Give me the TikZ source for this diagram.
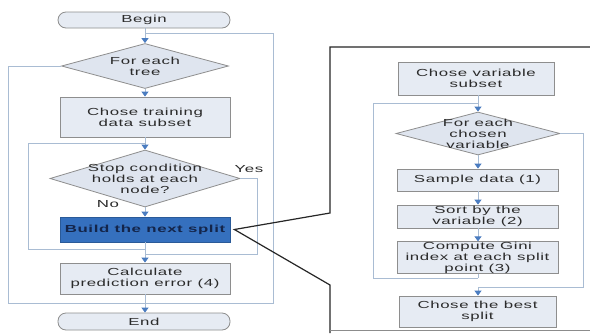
\documentclass[tikz,border=0pt]{standalone}
\usepackage{fontspec}
\setmainfont{Liberation Sans}[FakeStretch=1.65,LetterSpace=6]
\usetikzlibrary{arrows.meta,shapes.geometric}
\definecolor{boxfill}{HTML}{E6EBF3}
\definecolor{diafill}{HTML}{DFE5EF}
\definecolor{boxborder}{HTML}{8E8E8E}
\definecolor{lncol}{HTML}{A9BCD3}
\definecolor{arrcol}{HTML}{4A7CC0}
\definecolor{txt}{HTML}{2B2B2B}
\definecolor{buildfill}{HTML}{3570BE}
\definecolor{buildtxt}{HTML}{14254A}
\tikzset{
  fnt/.style={font=\fontsize{10.2}{11}\selectfont, text=txt, align=center},
  stepbox/.style={draw=boxborder, fill=boxfill, line width=0.8pt, inner sep=0pt, fnt},
  term/.style={draw=boxborder, fill=boxfill, line width=0.8pt, rounded corners=8pt, inner sep=0pt, fnt},
  dia/.style={diamond, draw=boxborder, fill=diafill, line width=0.8pt, inner sep=0pt},
  ln/.style={draw=lncol, line width=0.9pt},
  arr/.style={ln, -{Triangle[width=7pt,length=5pt,color=arrcol]}},
  callout/.style={draw=black!85, line width=1.2pt},
}
\begin{document}
\begin{tikzpicture}[x=1pt,y=-1pt]
\useasboundingbox (0,0) rectangle (590,333);
\fill[white] (0,0) rectangle (590,333);
% left flow
\node[term, minimum width=172pt, minimum height=16pt] (begin) at (144,20) {Begin};
\node[dia, minimum width=167pt, minimum height=45pt] (tree) at (145,66) {};
\node[fnt] (treet) at (tree.center) {For each\\tree};
\node[stepbox, minimum width=170pt, minimum height=40pt] (train) at (145,117) {Chose training\\data subset};
\node[dia, minimum width=190pt, minimum height=57pt] (stop) at (145,178.5) {};
\node[fnt] (stopt) at (stop.center) {Stop condition\\holds at each\\node?};
\node[draw=buildfill!80!black, fill=buildfill, line width=0.8pt, inner sep=0pt, minimum width=170pt, minimum height=25pt, font=\fontsize{10.2}{11}\selectfont\bfseries, text=buildtxt] (build) at (145,229.5) {Build the next split};
\node[stepbox, minimum width=170pt, minimum height=31pt] (calc) at (145,278.5) {Calculate\\prediction error (4)};
\node[term, minimum width=172pt, minimum height=17pt] (end) at (144,321.5) {End};
\node[fnt] (yes) at (249,169) {Yes};
\node[fnt] (no) at (108,204) {No};
% left connectors
\coordinate (o1) at (145,33);
\coordinate (oR) at (273,33);
\coordinate (oB) at (145,303);
\coordinate (oL) at (8,303);
\draw[arr] (begin.south -| tree.north) -- (tree.north);
\draw[ln] (o1) -- (oR) -- (oR |- oB) -- (oB);
\draw[ln] (tree.west) -| (oL) -- (oB);
\draw[arr] (tree.south) -- (train.north);
\draw[arr] (train.south) -- (stop.north);
\coordinate (i1) at (145,143);
\coordinate (iL) at (28,249);
\coordinate (iB1) at (145,249);
\coordinate (iR) at (257,254);
\coordinate (iB2) at (145,254);
\draw[ln] (i1) -| (iL) -- (iB1);
\draw[ln] (stop.east) -| (iR) -- (iB2);
\draw[arr] (stop.south) -- (build.north);
\draw[arr] (build.south) -- (calc.north);
\draw[arr] (calc.south) -- (end.north -| calc.south);
% callout
\coordinate (c0) at ([xshift=4pt]build.east);
\coordinate (c1) at (330,213);
\coordinate (c2) at (330,47);
\coordinate (c3) at (590,47);
\coordinate (c4) at (330,285);
\coordinate (c5) at (330,333);
\draw[callout] (c3) -- (c2) -- (c1) -- (c0) -- (c4) -- (c5);
\coordinate (p1) at (330,330);
\coordinate (p2) at (590,330);
\draw[draw=black!45, line width=1pt] (p1) -- (p2);
% right flow
\node[stepbox, minimum width=156pt, minimum height=33pt] (var) at (476,78.5) {Chose variable\\subset};
\node[dia, minimum width=164pt, minimum height=43pt] (chosen) at (478,133.5) {};
\node[fnt] (chosent) at (chosen.center) {For each\\chosen\\variable};
\node[stepbox, minimum width=161pt, minimum height=22pt] (sample) at (477.5,180) {Sample data (1)};
\node[stepbox, minimum width=161pt, minimum height=23pt] (sort) at (477.5,216.5) {Sort by the\\variable (2)};
\node[stepbox, minimum width=161pt, minimum height=31pt] (gini) at (477.5,257.5) {Compute Gini\\index at each split\\point (3)};
\node[stepbox, minimum width=157pt, minimum height=31pt] (best) at (477.5,311.5) {Chose the best\\split};
\coordinate (r1) at (478,103);
\coordinate (rL) at (373,278);
\coordinate (rB1) at (478,278);
\coordinate (rR) at (583,287);
\coordinate (rB2) at (478,287);
\draw[arr] (var.south -| chosen.north) -- (chosen.north);
\draw[ln] (r1) -| (rL) -- (rB1);
\draw[ln] (chosen.east) -| (rR) -- (rB2);
\draw[arr] (chosen.south) -- (sample.north -| chosen.south);
\draw[arr] (sample.south -| chosen.south) -- (sort.north -| chosen.south);
\draw[arr] (sort.south -| chosen.south) -- (gini.north -| chosen.south);
\draw[ln] (gini.south -| chosen.south) -- (rB1);
\draw[arr] (rB2) -- (best.north -| rB2);
\end{tikzpicture}
\end{document}
